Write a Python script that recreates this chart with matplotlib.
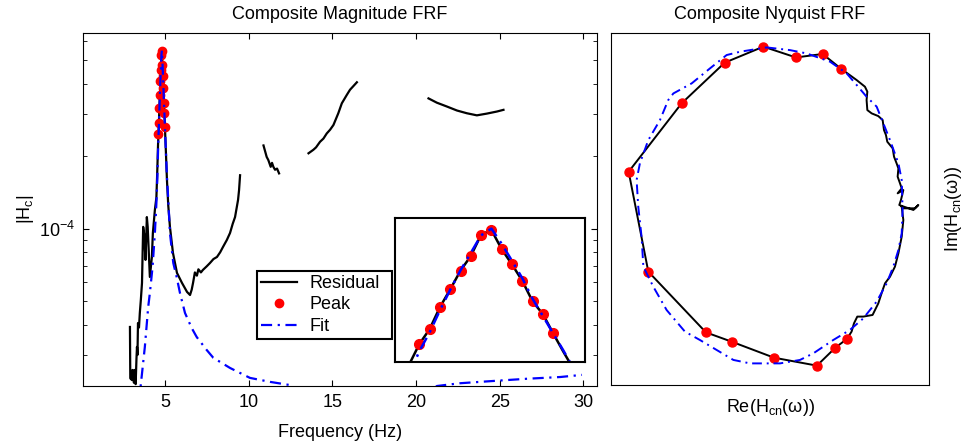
import numpy as np
import matplotlib
matplotlib.use('Agg')
from matplotlib import pyplot as plt
from matplotlib import rc
from matplotlib.ticker import NullFormatter, NullLocator

rc('font', **{'family': ['Liberation Sans', 'DejaVu Sans'], 'size': 13})
rc('mathtext', default='regular')

# --- magnitude data (Hz, |Hc|) ---
res_lo_freq = [2.91, 2.93, 3.03, 3.06, 3.09, 3.15, 3.18, 3.21, 3.25, 3.30, 3.33, 3.36, 3.39,
               3.45, 3.50, 3.56, 3.63, 3.70, 3.76, 3.84, 3.92, 3.97, 4.10, 4.22, 4.28, 4.40,
               4.49, 4.55, 4.58]
res_lo_mag = [3.92e-5, 2.4e-5, 2.36e-5, 2.6e-5, 2.45e-5, 2.30e-5, 2.6e-5, 2.55e-5, 2.27e-5,
              2.9e-5, 3.24e-5, 3.0e-5, 4.07e-5, 3.9e-5, 4.48e-5, 5.07e-5, 5.97e-5, 1.02e-4,
              9.5e-5, 7.44e-5, 1.12e-4, 1.02e-4, 6.32e-5, 7.65e-5, 9.62e-5, 1.20e-4, 1.35e-4,
              1.80e-4, 2.14e-4]

peak_freq = [4.61, 4.64, 4.67, 4.70, 4.73, 4.76, 4.79, 4.82, 4.85, 4.88, 4.91, 4.94, 4.97, 5.00]
peak_mag = [2.47e-4, 2.74e-4, 3.19e-4, 3.61e-4, 4.11e-4, 4.55e-4, 5.27e-4, 5.45e-4, 4.77e-4,
            4.29e-4, 3.83e-4, 3.32e-4, 3.04e-4, 2.66e-4]

res_hi_freq = [5.03, 5.06, 5.12, 5.20, 5.30, 5.48, 5.72, 6.02, 6.32, 6.50, 6.60, 6.68, 6.79,
               6.91, 7.00, 7.15, 7.27, 7.50, 7.69, 7.90, 8.11, 8.30, 8.47, 8.70, 8.89, 9.05,
               9.19, 9.37, 9.43, 9.49]
res_hi_mag = [2.34e-4, 2.07e-4, 1.60e-4, 1.25e-4, 1.02e-4, 7.95e-5, 6.57e-5, 5.97e-5, 5.48e-5,
              5.32e-5, 5.6e-5, 5.97e-5, 6.6e-5, 6.4e-5, 6.8e-5, 6.6e-5, 6.76e-5, 7.0e-5,
              7.22e-5, 7.5e-5, 7.65e-5, 8.0e-5, 8.42e-5, 9.0e-5, 9.62e-5, 1.05e-4, 1.12e-4,
              1.32e-4, 1.45e-4, 1.67e-4]

band2_freq = [10.89, 11.08, 11.18, 11.32, 11.40, 11.48, 11.58, 11.70, 11.82]
band2_mag = [2.22e-4, 1.99e-4, 1.93e-4, 1.81e-4, 1.88e-4, 1.81e-4, 1.76e-4, 1.78e-4, 1.70e-4]

band3_freq = [13.58, 13.87, 14.03, 14.27, 14.47, 14.67, 14.87, 15.07, 15.36, 15.57, 15.87,
              16.06, 16.24, 16.47]
band3_mag = [2.06e-4, 2.13e-4, 2.18e-4, 2.30e-4, 2.37e-4, 2.49e-4, 2.58e-4, 2.70e-4, 3.02e-4,
             3.32e-4, 3.60e-4, 3.78e-4, 3.90e-4, 4.06e-4]

band4_freq = [20.75, 21.25, 21.85, 22.45, 23.04, 23.64, 24.24, 24.84, 25.23]
band4_mag = [3.48e-4, 3.34e-4, 3.22e-4, 3.10e-4, 3.02e-4, 2.96e-4, 3.01e-4, 3.07e-4, 3.12e-4]

fit_freq = [3.40, 3.55, 3.80, 4.00, 4.10, 4.26, 4.40, 4.50, 4.55, 4.58, 4.61, 4.64, 4.67, 4.70,
            4.73, 4.76, 4.79, 4.82, 4.85, 4.88, 4.91, 4.94, 4.97, 5.00, 5.03, 5.06, 5.12, 5.20,
            5.30, 5.50, 5.70, 5.90, 6.20, 6.60, 6.90, 7.49, 7.89, 8.89, 10.08, 11.28, 12.48,
            13.5, 17.0, 20.5, 21.25, 22.64, 24.62, 26.63, 28.62, 29.92]
fit_mag = [1.5e-5, 2.23e-5, 3.24e-5, 4.74e-5, 5.42e-5, 6.95e-5, 9.62e-5, 1.32e-4, 1.65e-4,
           2.0e-4, 2.35e-4, 2.68e-4, 3.12e-4, 3.60e-4, 4.12e-4, 4.65e-4, 5.25e-4, 5.5e-4,
           4.95e-4, 4.40e-4, 3.90e-4, 3.38e-4, 3.00e-4, 2.66e-4, 2.36e-4, 2.08e-4, 1.65e-4,
           1.32e-4, 9.62e-5, 7.22e-5, 6.32e-5, 5.42e-5, 4.48e-5, 3.88e-5, 3.56e-5, 3.15e-5,
           2.92e-5, 2.65e-5, 2.41e-5, 2.32e-5, 2.25e-5, 2.0e-5, 8e-6, 2.0e-5, 2.23e-5, 2.29e-5,
           2.34e-5, 2.39e-5, 2.43e-5, 2.48e-5]

# --- Nyquist data (normalised Re / Im) ---
nyq_peak_re = [0.513, 0.436, 0.313, 0.027, -0.256, -0.427, -0.811, -0.942, -0.589, -0.302,
               -0.044, 0.173, 0.351, 0.476]
nyq_peak_im = [-0.893, -0.951, -1.071, -1.018, -0.911, -0.849, -0.444, 0.222, 0.678, 0.949,
               1.056, 0.984, 1.007, 0.907]

# low-frequency branch, from the cluster near the origin up to the first peak point
nyq_lo_re = [0.878, 0.889, 0.878, 0.856, 0.833, 0.800, 0.767, 0.751, 0.722, 0.684, 0.622,
             0.582, 0.560, 0.544]
nyq_lo_im = [-0.011, -0.100, -0.211, -0.322, -0.411, -0.478, -0.522, -0.567, -0.656, -0.733,
             -0.744, -0.744, -0.789, -0.844]

# high-frequency branch, from the last peak point back to the cluster
nyq_hi_re = [0.578, 0.633, 0.649, 0.644, 0.649, 0.678, 0.722, 0.751, 0.760, 0.773, 0.782,
             0.818, 0.827, 0.844, 0.856, 0.851, 0.867, 0.878, 0.851, 0.889, 0.873, 0.862,
             0.893, 0.956, 0.989, 0.967, 0.884, 0.878]
nyq_hi_im = [0.833, 0.789, 0.756, 0.700, 0.633, 0.611, 0.593, 0.567, 0.500, 0.467, 0.422,
             0.378, 0.322, 0.278, 0.244, 0.189, 0.144, 0.111, 0.078, 0.100, 0.033, 0.0,
             -0.011, -0.033, 0.0, -0.022, -0.022, -0.011]

nyq_fit_re = [-0.022, 0.133, 0.244, 0.400, 0.511, 0.578, 0.644, 0.711, 0.756, 0.800, 0.856,
              0.878, 0.884, 0.878, 0.856, 0.822, 0.778, 0.711, 0.622, 0.533, 0.422, 0.289,
              0.200, 0.067, -0.133, -0.244, -0.467, -0.567, -0.689, -0.778, -0.844, -0.856,
              -0.878, -0.889, -0.867, -0.811, -0.733, -0.678, -0.644, -0.522, -0.400, -0.289,
              -0.200, -0.022]
nyq_fit_im = [1.051, 1.033, 1.011, 0.956, 0.878, 0.800, 0.722, 0.656, 0.544, 0.433, 0.278,
              0.167, -0.033, -0.189, -0.300, -0.411, -0.522, -0.644, -0.756, -0.833, -0.900,
              -0.989, -1.033, -1.056, -1.056, -1.033, -0.900, -0.844, -0.700, -0.544, -0.411,
              -0.211, -0.011, 0.167, 0.278, 0.433, 0.567, 0.700, 0.744, 0.811, 0.911, 1.000,
              1.022, 1.051]

gap = [np.nan]
res_freq = np.concatenate([res_lo_freq, peak_freq, res_hi_freq, gap, band2_freq, gap,
                           band3_freq, gap, band4_freq])
res_mag = np.concatenate([res_lo_mag, peak_mag, res_hi_mag, gap, band2_mag, gap,
                          band3_mag, gap, band4_mag])
nyq_re = np.concatenate([nyq_lo_re, nyq_peak_re, nyq_hi_re])
nyq_im = np.concatenate([nyq_lo_im, nyq_peak_im, nyq_hi_im])

fit_ls = (0, (5, 2.5, 1, 2.5))


def draw_mag(ax, lw=1.6, ms=6):
    ax.plot(res_freq, res_mag, color='black', linewidth=lw, label='Residual')
    ax.plot(peak_freq, peak_mag, linestyle='none', marker='o', color='red',
            markersize=ms, label='Peak')
    ax.plot(fit_freq, fit_mag, color='blue', linewidth=lw, linestyle=fit_ls, label='Fit')
    ax.set_yscale('log')


fig = plt.figure(figsize=(9.67, 4.46), dpi=100)

ax = fig.add_axes([0.0861, 0.1345, 0.5313, 0.7915])
draw_mag(ax)
ax.set_xlim(0.12, 30.82)
ax.set_ylim(2.23e-5, 6.5e-4)
ax.set_xticks([5, 10, 15, 20, 25, 30])
ax.yaxis.set_minor_formatter(NullFormatter())
ax.tick_params(which='both', direction='in', top=True, right=True, pad=6)
ax.tick_params(which='major', length=4)
ax.tick_params(which='minor', length=3)
ax.set_title('Composite Magnitude FRF', fontsize=13, pad=10)
ax.set_xlabel('Frequency (Hz)', labelpad=9)
ax.set_ylabel('|H$_c$|', labelpad=2)
leg = ax.legend(loc='upper left', bbox_to_anchor=(0.3385, 0.1332, 0.2626, 0.1926),
                mode='expand', borderaxespad=0, fancybox=False, edgecolor='black',
                framealpha=1, borderpad=0.22, labelspacing=0.25, handlelength=2.0,
                handletextpad=0.67, numpoints=1)
leg.get_frame().set_linewidth(1.5)

# zoom on the resonance peak
ins = fig.add_axes([0.4085, 0.1883, 0.1965, 0.3229])
draw_mag(ins, lw=1.8, ms=7)
ins.set_xlim(4.539, 5.093)
ins.set_ylim(2.18e-4, 5.92e-4)
ins.set_xticks([])
ins.yaxis.set_major_locator(NullLocator())
ins.yaxis.set_minor_locator(NullLocator())
for s in ins.spines.values():
    s.set_linewidth(1.5)

ax2 = fig.add_axes([0.6318, 0.1368, 0.3289, 0.7892])
ax2.plot(nyq_re, nyq_im, color='black', linewidth=1.4)
ax2.plot(nyq_peak_re, nyq_peak_im, linestyle='none', marker='o', color='red', markersize=6.5)
ax2.plot(nyq_fit_re, nyq_fit_im, color='blue', linewidth=1.4, linestyle=fit_ls)
ax2.set_xlim(-1.06, 1.06)
ax2.set_ylim(-1.2, 1.147)
ax2.set_xticks([])
ax2.set_yticks([])
ax2.set_title('Composite Nyquist FRF', fontsize=13, pad=10)
ax2.set_xlabel('Re(H$_{cn}$(ω))', labelpad=9)
ax2.yaxis.set_label_position('right')
ax2.set_ylabel('Im(H$_{cn}$(ω))', labelpad=10)

plt.savefig('out.png', dpi=100)
